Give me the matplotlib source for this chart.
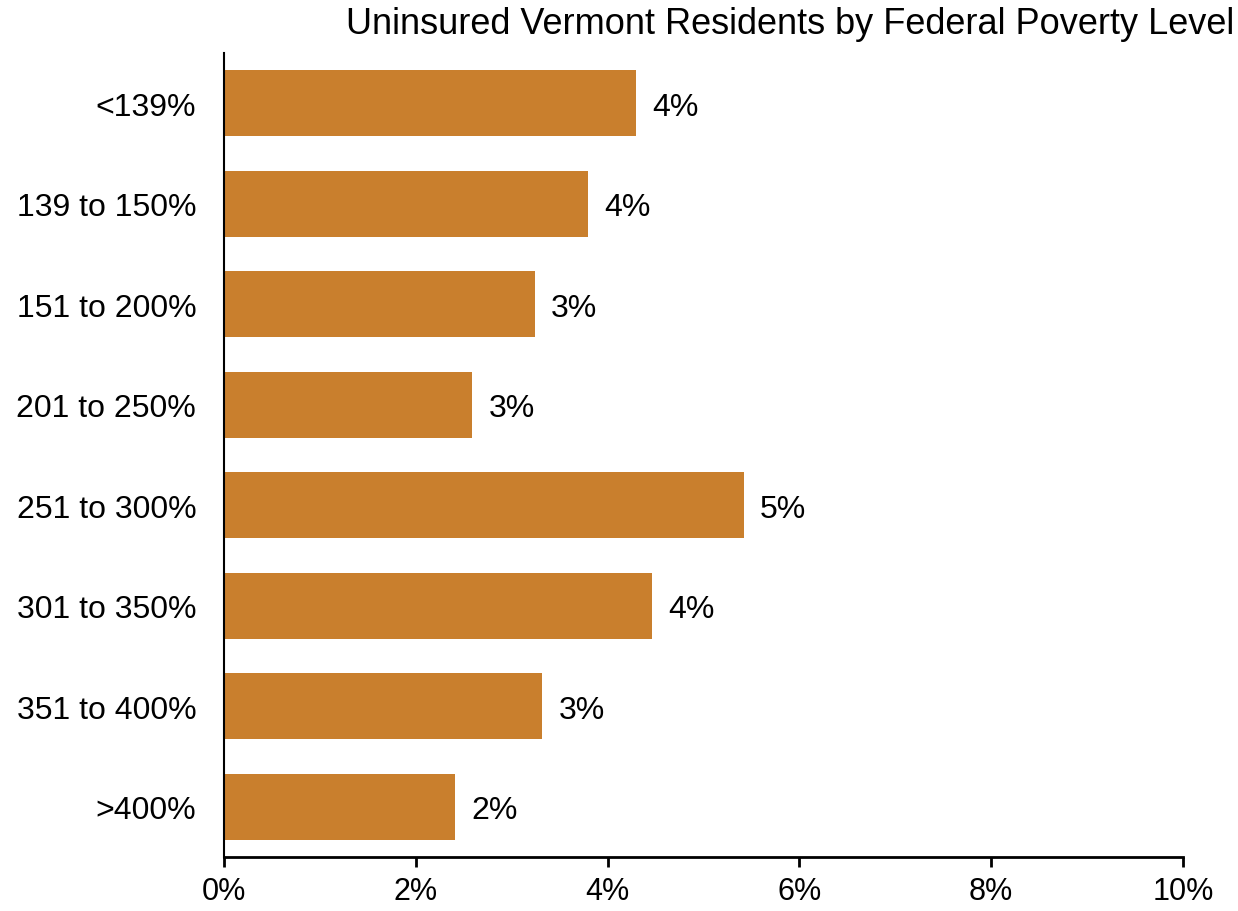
import numpy as np
import matplotlib.pyplot as plt

# Datos
categories = ["<139%", "139 to 150%", "151 to 200%", "201 to 250%",
              "251 to 300%", "301 to 350%", "351 to 400%", ">400%"]
values = [4.30, 3.80, 3.24, 2.59, 5.42, 4.46, 3.32, 2.41]
bar_labels = ["4%", "4%", "3%", "3%", "5%", "4%", "3%", "2%"]
xticks = [0, 2, 4, 6, 8, 10]
xtick_labels = ["0%", "2%", "4%", "6%", "8%", "10%"]

plt.rcParams['font.family'] = ['Liberation Sans', 'DejaVu Sans']

fig = plt.figure(figsize=(12.38, 9.12), dpi=100, facecolor="white")
ax = fig.add_axes([224/1238, 1 - 858/912, 959/1238, 804/912])

y = np.arange(len(categories))
ax.barh(y, values, height=0.66, color="#C97F2D")
for yi, v, lab in zip(y, values, bar_labels):
    ax.text(v + 0.17, yi, lab, va="center_baseline", ha="left", fontsize=23)

ax.set_ylim(len(categories) - 0.5, -0.5)
ax.set_xlim(0, 10)
ax.set_yticks(y)
ax.set_yticklabels(categories, fontsize=23, va="center_baseline")
ax.tick_params(axis="y", length=0, pad=20)
ax.set_xticks(xticks)
ax.set_xticklabels(xtick_labels, fontsize=22)
ax.tick_params(axis="x", direction="out", length=7, width=2, pad=7)

for s in ["top", "right"]:
    ax.spines[s].set_visible(False)
ax.spines["left"].set_linewidth(1.5)
ax.spines["bottom"].set_linewidth(2)

fig.text(1234/1238, 1 - 24/912, "Uninsured Vermont Residents by Federal Poverty Level",
         ha="right", va="center", fontsize=26)

fig.savefig("out.png", dpi=100)
